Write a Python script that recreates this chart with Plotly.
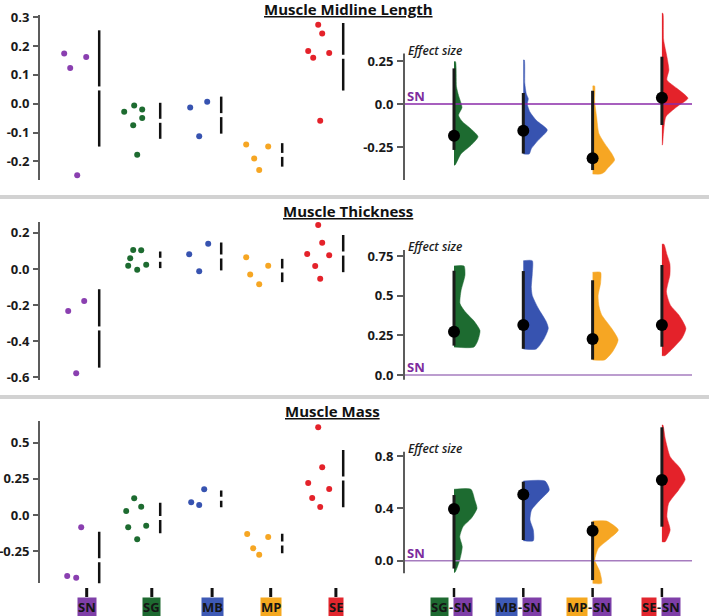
import plotly.graph_objects as go

W, H = 709, 616

# ---------------- data ----------------
GROUPS = ["SN", "SG", "MB", "MP", "SE"]
COMPARED = ["SG", "MB", "MP", "SE"]          # each compared with SN
REFERENCE = "SN"
ROW_TITLES = ["Muscle Midline Length", "Muscle Thickness", "Muscle Mass"]

length_values = [
    [0.174, 0.124, 0.162, -0.248],
    [-0.028, -0.006, -0.020, -0.050, -0.075, -0.177],
    [-0.013, 0.007, -0.113],
    [-0.142, -0.190, -0.149, -0.230],
    [0.274, 0.244, 0.183, 0.176, 0.160, -0.059],
]
thickness_values = [
    [-0.233, -0.177, -0.578],
    [0.018, 0.059, 0.105, 0.104, 0.024, -0.004],
    [0.081, 0.140, -0.013],
    [0.065, -0.031, 0.018, -0.085],
    [0.244, 0.146, 0.083, 0.076, 0.017, -0.054],
]
mass_values = [
    [-0.085, -0.421, -0.433],
    [0.115, 0.028, 0.057, -0.085, -0.074, -0.168],
    [0.088, 0.069, 0.177],
    [-0.131, -0.230, -0.152, -0.274],
    [0.606, 0.329, 0.221, 0.180, 0.117, 0.055],
]

# effect sizes (vs SN) with 95% CI
length_effect = [-0.184, -0.155, -0.316, 0.037]
length_ci_low = [-0.267, -0.288, -0.384, -0.122]
length_ci_high = [0.207, 0.064, 0.077, 0.275]
thickness_effect = [0.273, 0.315, 0.227, 0.315]
thickness_ci_low = [0.185, 0.165, 0.097, 0.178]
thickness_ci_high = [0.657, 0.655, 0.597, 0.693]
mass_effect = [0.395, 0.507, 0.229, 0.617]
mass_ci_low = [-0.06, 0.158, -0.148, 0.26]
mass_ci_high = [0.502, 0.604, 0.298, 1.02]

# bootstrap density profiles (value, relative density)
length_dens_y = [
    [0.246, 0.10, 0.05, -0.02, -0.065, -0.10, -0.145, -0.19, -0.24, -0.29, -0.355],
    [0.256, 0.12, 0.06, 0.03, 0.0, -0.045, -0.095, -0.151, -0.21, -0.26, -0.29],
    [0.105, 0.02, -0.074, -0.171, -0.229, -0.287, -0.326, -0.374, -0.395, -0.407],
    [0.527, 0.372, 0.275, 0.198, 0.14, 0.091, 0.033, -0.016, -0.074, -0.171, -0.238],
]
length_dens_w = [
    [0.06, 0.10, 0.18, 0.32, 0.18, 0.32, 0.68, 0.96, 0.68, 0.28, 0.04],
    [0.04, 0.06, 0.12, 0.20, 0.16, 0.26, 0.52, 0.96, 0.60, 0.32, 0.24],
    [0.08, 0.08, 0.16, 0.25, 0.48, 0.76, 0.88, 0.60, 0.48, 0.32],
    [0.04, 0.07, 0.20, 0.28, 0.20, 0.60, 1.04, 0.60, 0.16, 0.06, 0.02],
]
thickness_dens_y = [
    [0.687, 0.63, 0.53, 0.45, 0.40, 0.34, 0.28, 0.22, 0.176],
    [0.72, 0.64, 0.55, 0.50, 0.42, 0.336, 0.294, 0.231, 0.164],
    [0.647, 0.58, 0.50, 0.43, 0.38, 0.294, 0.221, 0.147, 0.095],
    [0.824, 0.76, 0.70, 0.63, 0.525, 0.44, 0.378, 0.294, 0.231, 0.168, 0.122],
]
thickness_dens_w = [
    [0.40, 0.44, 0.28, 0.24, 0.44, 0.80, 1.04, 0.96, 0.80],
    [0.36, 0.36, 0.32, 0.36, 0.60, 0.92, 1.00, 0.84, 0.52],
    [0.32, 0.32, 0.22, 0.26, 0.36, 0.76, 1.02, 0.80, 0.48],
    [0.08, 0.20, 0.32, 0.32, 0.18, 0.34, 0.68, 0.96, 0.80, 0.44, 0.12],
]
mass_dens_y = [
    [0.546, 0.464, 0.40, 0.324, 0.26, 0.183, 0.107, 0.005, -0.089],
    [0.609, 0.541, 0.464, 0.388, 0.311, 0.235, 0.153],
    [0.303, 0.235, 0.171, 0.095, 0.005, -0.084, -0.173],
    [1.037, 0.936, 0.795, 0.707, 0.622, 0.541, 0.439, 0.336, 0.235, 0.145],
]
mass_dens_w = [
    [0.68, 0.83, 0.92, 0.69, 0.36, 0.23, 0.33, 0.23, 0.04],
    [0.87, 1.04, 0.67, 0.33, 0.27, 0.40, 0.40],
    [0.56, 1.03, 0.69, 0.23, 0.09, 0.29, 0.36],
    [0.04, 0.13, 0.33, 0.73, 0.93, 0.67, 0.27, 0.20, 0.33, 0.13],
]

# axis ticks
length_ticks = [-0.2, -0.1, 0.0, 0.1, 0.2, 0.3]
length_ticktext = ["-0.2", "-0.1", "0.0", "0.1", "0.2", "0.3"]
thickness_ticks = [-0.6, -0.4, -0.2, 0.0, 0.2]
thickness_ticktext = ["-0.6", "-0.4", "-0.2", "0.0", "0.2"]
mass_ticks = [-0.25, 0.0, 0.25, 0.5]
mass_ticktext = ["-0.25", "0.0", "0.25", "0.5"]
length_es_ticks = [-0.25, 0.0, 0.25]
length_es_ticktext = ["-0.25", "0.0", "0.25"]
thickness_es_ticks = [0.0, 0.25, 0.5, 0.75]
thickness_es_ticktext = ["0.0", "0.25", "0.5", "0.75"]
mass_es_ticks = [0.0, 0.4, 0.8]
mass_es_ticktext = ["0.0", "0.4", "0.8"]

# ---------------- layout / style (not data) ----------------
COLORS = {"SN": "#8a3fb0", "SG": "#1d6b30", "MB": "#3753b0", "MP": "#f6a623", "SE": "#e4222a"}
LABEL_BG = {"SN": "#7f3fa8", "SG": "#1e6a31", "MB": "#3e5ab5", "MP": "#f5a81f", "SE": "#e2262e"}

# swarm x-offsets in px relative to each group's summary line
length_offsets = [[-35, -29, -13, -22], [-36, -26, -18, -18, -27, -23], [-31, -14, -22],
                  [-36, -28, -14, -23], [-25, -21, -35, -14, -30, -23]]
thickness_offsets = [[-31, -15, -23], [-32, -30, -27, -19, -14, -23], [-32, -13, -22],
                     [-36, -32, -14, -23], [-25, -21, -36, -14, -28, -23]]
mass_offsets = [[-18, -32, -23], [-26, -34, -19, -32, -14, -23], [-30, -22, -17],
                [-35, -29, -14, -23], [-25, -21, -35, -14, -31, -23]]
LABEL_SHIFT = [-12.5, -8.4, -9.1, -11.5, -7.3]   # px, bottom label vs summary line

LEFT_PX0, LEFT_PX_STEP = 99.2, 61.0
RIGHT_PX0, RIGHT_PX_STEP = 454.0, 69.3
LEFT_X = (40, 360)
RIGHT_X = (404, 700)
VIOLIN_PX = 25.0

rows = [
    dict(title=ROW_TITLES[0], title_x=348, title_y=8.5, values=length_values, offsets=length_offsets,
         ticks=length_ticks, ticktext=length_ticktext, ldom=(15, 180), lrange=(-0.2649, 0.3080),
         eff=length_effect, lo=length_ci_low, hi=length_ci_high, dy=length_dens_y, dw=length_dens_w,
         rticks=length_es_ticks, rticktext=length_es_ticktext, rdom=(8, 186), rrange=(-0.4767, 0.5581),
         raxis=(-0.442, 0.294), sncolor="#8a2aa8"),
    dict(title=ROW_TITLES[1], title_x=348, title_y=211, values=thickness_values, offsets=thickness_offsets,
         ticks=thickness_ticks, ticktext=thickness_ticktext, ldom=(221.7, 380), lrange=(-0.615, 0.262),
         eff=thickness_effect, lo=thickness_ci_low, hi=thickness_ci_high, dy=thickness_dens_y, dw=thickness_dens_w,
         rticks=thickness_es_ticks, rticktext=thickness_es_ticktext, rdom=(205, 388), rrange=(-0.0819, 1.0712),
         raxis=(-0.03, 0.788), sncolor="#a67cbf"),
    dict(title=ROW_TITLES[2], title_x=332, title_y=411, values=mass_values, offsets=mass_offsets,
         ticks=mass_ticks, ticktext=mass_ticktext, ldom=(420.7, 583.3), lrange=(-0.4717, 0.6512),
         eff=mass_effect, lo=mass_ci_low, hi=mass_ci_high, dy=mass_dens_y, dw=mass_dens_w,
         rticks=mass_es_ticks, rticktext=mass_es_ticktext, rdom=(405, 588), rrange=(-0.2087, 1.1904),
         raxis=(-0.096, 0.833), sncolor="#a67cbf"),
]

FONT = "Open Sans, Lato, sans-serif"
TICKFONT = dict(family=FONT, size=13, color="#1a1a1a", weight="bold")


def xdom(px):
    return [px[0] / W, px[1] / W]


def ydom(py):
    return [1 - py[1] / H, 1 - py[0] / H]


def name(k):
    return "" if k == 1 else str(k)


def mean_sd(v):
    m = sum(v) / len(v)
    sd = (sum((a - m) ** 2 for a in v) / (len(v) - 1)) ** 0.5
    return m, sd


fig = go.Figure()
layout = {}
shapes = []
annotations = []

lx_range = [(LEFT_X[0] - LEFT_PX0) / LEFT_PX_STEP, (LEFT_X[1] - LEFT_PX0) / LEFT_PX_STEP]
rx_range = [(RIGHT_X[0] - RIGHT_PX0) / RIGHT_PX_STEP, (RIGHT_X[1] - RIGHT_PX0) / RIGHT_PX_STEP]

for r, row in enumerate(rows):
    kL, kR = 2 * r + 1, 2 * r + 2
    xa_L, ya_L, xa_R, ya_R = "x" + name(kL), "y" + name(kL), "x" + name(kR), "y" + name(kR)

    layout["xaxis" + name(kL)] = dict(domain=xdom(LEFT_X), range=lx_range, visible=False,
                                      anchor=ya_L, fixedrange=True, automargin=False)
    layout["yaxis" + name(kL)] = dict(domain=ydom(row["ldom"]), range=list(row["lrange"]), anchor=xa_L,
                                      showline=True, linecolor="#5c5c5c", linewidth=2,
                                      ticks="outside", ticklen=5, tickwidth=1.5, tickcolor="#5c5c5c",
                                      tickvals=row["ticks"], ticktext=row["ticktext"], tickfont=TICKFONT,
                                      ticklabelstandoff=1, automargin=False,
                                      showgrid=False, zeroline=False, fixedrange=True)
    layout["xaxis" + name(kR)] = dict(domain=xdom(RIGHT_X), range=rx_range, visible=False,
                                      anchor=ya_R, fixedrange=True, automargin=False)
    layout["yaxis" + name(kR)] = dict(domain=ydom(row["rdom"]), range=list(row["rrange"]), anchor=xa_R,
                                      showline=False, ticks="outside", ticklen=6, tickwidth=1.5,
                                      tickcolor="#5c5c5c", tickvals=row["rticks"], ticktext=row["rticktext"],
                                      tickfont=TICKFONT, ticklabelstandoff=1, automargin=False,
                                      showgrid=False, zeroline=False, fixedrange=True)

    # ---- left: swarm + gapped mean±sd line
    for i, g in enumerate(GROUPS):
        vals = row["values"][i]
        xs = [i + o / LEFT_PX_STEP for o in row["offsets"][i]]
        fig.add_trace(go.Scatter(x=xs, y=vals, mode="markers", xaxis=xa_L, yaxis=ya_L,
                                 marker=dict(size=6, color=COLORS[g]), hoverinfo="y", showlegend=False))
        m, sd = mean_sd(vals)
        fig.add_trace(go.Scatter(x=[i, i], y=[m - sd, m + sd], mode="lines", xaxis=xa_L, yaxis=ya_L,
                                 line=dict(color="#111111", width=2.5), hoverinfo="skip", showlegend=False))
        fig.add_trace(go.Scatter(x=[i], y=[m], mode="markers", xaxis=xa_L, yaxis=ya_L,
                                 marker=dict(symbol="line-ew", size=8, line=dict(width=4, color="white")),
                                 hoverinfo="skip", showlegend=False))

    # ---- right: half violins, reference line, CI, effect dot
    scale = VIOLIN_PX / RIGHT_PX_STEP
    for j, g in enumerate(COMPARED):
        ys, ws = row["dy"][j], row["dw"][j]
        vx = [j] + [j + w * scale for w in ws] + [j]
        vy = [ys[0]] + ys + [ys[-1]]
        fig.add_trace(go.Scatter(x=vx, y=vy, mode="lines", fill="toself", fillcolor=COLORS[g],
                                 line=dict(color=COLORS[g], width=0.5, shape="spline", smoothing=0.6),
                                 xaxis=xa_R, yaxis=ya_R, hoverinfo="skip", showlegend=False))
    x_end = rx_range[0] + 0.973 * (rx_range[1] - rx_range[0])
    fig.add_trace(go.Scatter(x=[rx_range[0], x_end], y=[0, 0], mode="lines", xaxis=xa_R, yaxis=ya_R,
                             line=dict(color=row["sncolor"], width=1.6), hoverinfo="skip", showlegend=False))
    for j, g in enumerate(COMPARED):
        fig.add_trace(go.Scatter(x=[j, j], y=[row["lo"][j], row["hi"][j]], mode="lines",
                                 line=dict(color="#1a1a1a", width=3), xaxis=xa_R, yaxis=ya_R,
                                 hoverinfo="skip", showlegend=False))
    fig.add_trace(go.Scatter(x=list(range(len(COMPARED))), y=row["eff"], mode="markers",
                             marker=dict(size=12, color="black"), xaxis=xa_R, yaxis=ya_R,
                             hoverinfo="y", showlegend=False))

    # right axis line (shorter than the panel)
    shapes.append(dict(type="line", xref=xa_R + " domain", x0=0, x1=0, yref=ya_R,
                       y0=row["raxis"][0], y1=row["raxis"][1], line=dict(color="#5c5c5c", width=2)))

    # titles & labels
    annotations.append(dict(text=row["title"], xref="paper", yref="paper", x=row["title_x"] / W,
                            y=1 - row["title_y"] / H, showarrow=False, xanchor="center", yanchor="middle",
                            font=dict(family=FONT, size=15, color="#111", weight="bold", lineposition="under")))
    annotations.append(dict(text="Effect size", xref=xa_R + " domain", x=0, xshift=2, xanchor="left",
                            yref=ya_R, y=row["raxis"][1], yshift=3, yanchor="middle", showarrow=False,
                            font=dict(family=FONT, size=12, color="#1e1e1e", style="italic", weight=600)))
    annotations.append(dict(text=REFERENCE, xref=xa_R + " domain", x=0, xshift=1, xanchor="left",
                            yref=ya_R, y=0, yanchor="bottom", yshift=-3, showarrow=False,
                            font=dict(family=FONT, size=13, color="#7d2d9e", weight="bold")))

# separators between rows
for y0, y1 in [(195, 199), (395, 399)]:
    shapes.append(dict(type="rect", xref="paper", yref="paper", x0=0, x1=1, y0=1 - y1 / H, y1=1 - y0 / H,
                       fillcolor="#d2d2d2", line=dict(width=0)))

# bottom category ticks and labels
LBL_FONT = dict(family=FONT, size=13, color="#151515", weight="bold")
LBL_Y = 1 - 606.5 / H
for i, g in enumerate(GROUPS):
    xc = i + LABEL_SHIFT[i] / LEFT_PX_STEP
    shapes.append(dict(type="line", xref="x5", yref="paper", x0=xc, x1=xc, y0=1 - 588 / H, y1=1 - 597 / H,
                       line=dict(color="#111", width=3)))
    annotations.append(dict(text=g, xref="x5", yref="paper", x=xc, y=LBL_Y, showarrow=False,
                            xanchor="center", yanchor="middle", bgcolor=LABEL_BG[g], borderpad=0,
                            font=LBL_FONT))
for j, g in enumerate(COMPARED):
    shapes.append(dict(type="line", xref="x6", yref="paper", x0=j, x1=j, y0=1 - 588 / H, y1=1 - 597 / H,
                       line=dict(color="#111", width=2.5)))
    annotations.append(dict(text=g, xref="x6", yref="paper", x=j, xshift=-5, y=LBL_Y, showarrow=False,
                            xanchor="right", yanchor="middle", bgcolor=LABEL_BG[g], borderpad=0, font=LBL_FONT))
    annotations.append(dict(text="-", xref="x6", yref="paper", x=j, xshift=-3, y=LBL_Y, showarrow=False,
                            xanchor="center", yanchor="middle", font=LBL_FONT))
    annotations.append(dict(text=REFERENCE, xref="x6", yref="paper", x=j, xshift=-1, y=LBL_Y,
                            showarrow=False, xanchor="left", yanchor="middle", bgcolor=LABEL_BG[REFERENCE],
                            borderpad=0, font=LBL_FONT))

fig.update_layout(template="none", width=W, height=H, margin=dict(l=0, r=0, t=0, b=0, pad=0),
                  paper_bgcolor="white", plot_bgcolor="white", showlegend=False, shapes=shapes,
                  annotations=annotations, font=dict(family=FONT), **layout)

fig.write_html("out.html", config={"displayModeBar": False},
               post_script="document.body.style.margin='0';document.body.style.padding='0';"
                           "document.body.style.overflow='hidden';")
